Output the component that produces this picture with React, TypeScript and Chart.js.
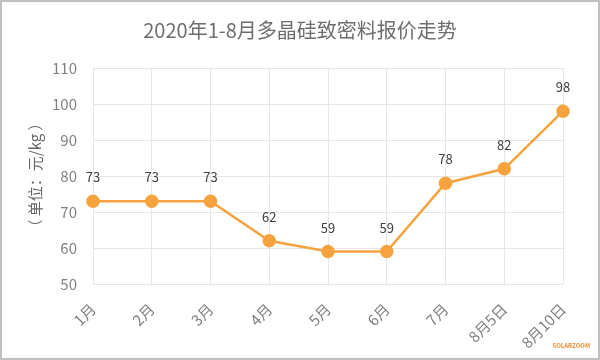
import React, { useEffect, useRef } from "react";
import { Chart, registerables } from "chart.js";

Chart.register(...registerables);

const TITLE = "2020年1-8月多晶硅致密料报价走势";
const Y_TITLE = "（ 单位：元/kg ）";
const WATERMARK = "SOLARZOOM";
const categories = ["1月", "2月", "3月", "4月", "5月", "6月", "7月", "8月5日", "8月10日"];
const prices = [73, 73, 73, 62, 59, 59, 78, 82, 98];
const Y_MIN = 50;
const Y_MAX = 110;
const Y_STEP = 10;

const FONT = "'Noto Sans CJK SC', 'Noto Sans', sans-serif";
const LINE_COLOR = "#F5A33E";

const decorPlugin = {
  id: "decor",
  afterDraw(chart: any) {
    const ctx = chart.ctx;
    const { width, height } = chart;
    ctx.save();
    ctx.strokeStyle = "#BFBFBF";
    ctx.lineWidth = 2;
    ctx.strokeRect(1, 1, width - 2, height - 2);
    ctx.fillStyle = "#6E6E6E";
    ctx.font = `20px ${FONT}`;
    ctx.textAlign = "center";
    ctx.textBaseline = "middle";
    ctx.fillText(TITLE, 300, 30);
    ctx.save();
    ctx.translate(35, 175);
    ctx.rotate(-Math.PI / 2);
    ctx.font = `15px ${FONT}`;
    ctx.fillStyle = "#666666";
    ctx.fillText(Y_TITLE, 0, 0);
    ctx.restore();
    const meta = chart.getDatasetMeta(0);
    ctx.font = `13px ${FONT}`;
    ctx.fillStyle = "#404040";
    ctx.textAlign = "center";
    ctx.textBaseline = "middle";
    meta.data.forEach((pt: any, i: number) => {
      ctx.fillText(String(prices[i]), pt.x, pt.y - 24);
    });
    ctx.font = `bold 6px ${FONT}`;
    ctx.fillStyle = "#F08A30";
    ctx.textAlign = "right";
    ctx.fillText(WATERMARK, 590, 346);
    ctx.restore();
  },
};

export default function App() {
  const ref = useRef<HTMLCanvasElement>(null);
  useEffect(() => {
    document.body.style.margin = "0";
    const chart = new Chart(ref.current!, {
      type: "line",
      data: {
        labels: categories,
        datasets: [
          {
            data: prices,
            borderColor: LINE_COLOR,
            backgroundColor: LINE_COLOR,
            borderWidth: 2.5,
            pointRadius: 5.5,
            pointHoverRadius: 5.5,
            pointBackgroundColor: LINE_COLOR,
            pointBorderColor: LINE_COLOR,
            tension: 0,
          },
        ],
      },
      options: {
        animation: false,
        responsive: false,
        devicePixelRatio: 1,
        layout: { padding: { top: 68, right: 37, left: 0, bottom: 0 } },
        plugins: { legend: { display: false }, title: { display: false }, tooltip: { enabled: false } },
        scales: {
          x: {
            offset: false,
            grid: { color: "#E6E6E6", drawTicks: false },
            border: { display: false },
            ticks: {
              color: "#808080",
              font: { family: FONT, size: 15 },
              maxRotation: 45,
              minRotation: 45,
              padding: 16,
              autoSkip: false,
            },
            afterFit(scale: any) {
              scale.height = 76;
            },
          },
          y: {
            min: Y_MIN,
            max: Y_MAX,
            grid: { color: "#E6E6E6", drawTicks: false },
            border: { display: false },
            ticks: {
              stepSize: Y_STEP,
              color: "#808080",
              font: { family: FONT, size: 15 },
              padding: 16,
            },
            afterFit(scale: any) {
              scale.width = 93;
            },
          },
        },
      },
      plugins: [decorPlugin],
    });
    return () => chart.destroy();
  }, []);
  return <canvas ref={ref} width={600} height={360} style={{ display: "block", background: "#fff" }} />;
}
